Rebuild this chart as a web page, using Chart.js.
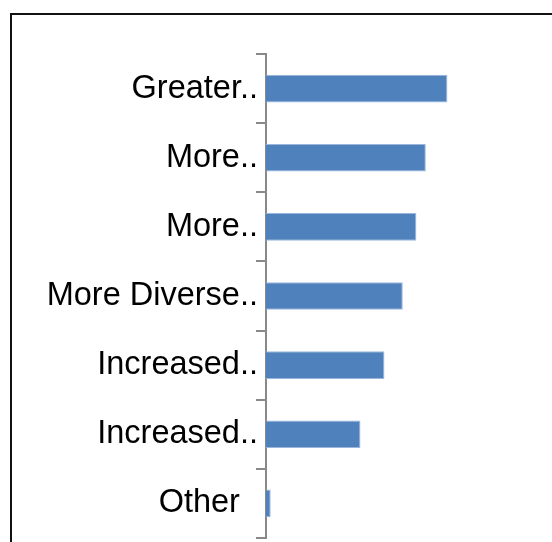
<!DOCTYPE html>
<html>
<head>
<meta charset="utf-8">
<script src="https://cdn.jsdelivr.net/npm/chart.js@4/dist/chart.umd.min.js"></script>
<style>
  html, body { margin: 0; padding: 0; background: #fff; overflow: hidden; }
  #wrap { position: relative; width: 552px; height: 542px; overflow: hidden; }
  #frame { position: absolute; left: 10px; top: 13px; width: 600px; height: 600px;
           border-left: 2px solid #111; border-top: 2px solid #111; box-sizing: border-box; }
  canvas { position: absolute; left: 0; top: 0; }
</style>
</head>
<body>
<div id="wrap">
  <div id="frame"></div>
  <canvas id="c" width="552" height="542"></canvas>
</div>
<script>
const categories = ["Greater..", "More..", "More..", "More Diverse..", "Increased..", "Increased..", "Other  "];
const values = [38.6, 34, 32, 29.1, 25.2, 20.1, 1];
const xMin = 0;
const xMax = 60;

new Chart(document.getElementById('c'), {
  type: 'bar',
  data: {
    labels: categories,
    datasets: [{
      data: values,
      backgroundColor: '#4F81BD',
      borderColor: '#9DB7DC',
      borderWidth: 1,
      borderSkipped: 'start',
      categoryPercentage: 1.0,
      barPercentage: 0.4
    }]
  },
  options: {
    indexAxis: 'y',
    responsive: false,
    animation: false,
    layout: { padding: { top: 54, bottom: 4, right: 4, left: 0 } },
    plugins: { legend: { display: false }, tooltip: { enabled: false } },
    scales: {
      x: { display: false, min: xMin, max: xMax },
      y: {
        afterFit: (s) => { s.width = 266; s.paddingTop = 0; s.paddingBottom = 0; },
        border: { display: true, color: '#898989', width: 2 },
        grid: { drawOnChartArea: false, drawTicks: true, tickLength: 10, color: '#898989', lineWidth: 2, offset: true },
        ticks: { color: '#000', padding: -2, font: { family: 'Liberation Sans', size: 32.5 } }
      }
    }
  }
});
</script>
</body>
</html>
